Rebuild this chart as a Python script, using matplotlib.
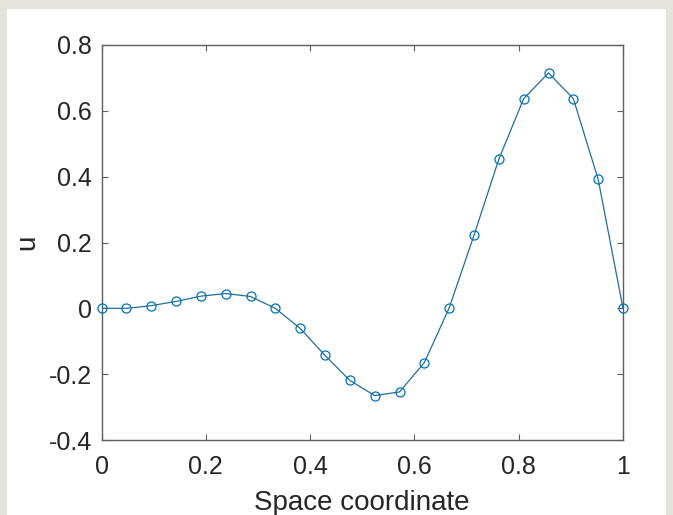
import matplotlib
matplotlib.use("Agg")
import matplotlib.pyplot as plt
from matplotlib.patches import Rectangle

x_labels = ["0", "0.2", "0.4", "0.6", "0.8", "1"]
x_ticks = [0, 0.2, 0.4, 0.6, 0.8, 1]
y_labels = ["-0.4", "-0.2", "0", "0.2", "0.4", "0.6", "0.8"]
y_ticks = [-0.4, -0.2, 0, 0.2, 0.4, 0.6, 0.8]

space = [i / 21 for i in range(22)]
u = [0.0, 0.0, 0.008, 0.021, 0.037, 0.045, 0.036, 0.0, -0.061, -0.143,
     -0.219, -0.265, -0.254, -0.165, 0.001, 0.222, 0.453, 0.637,
     0.715, 0.637, 0.392, 0.0]

plt.rcParams["font.family"] = ["Liberation Sans", "DejaVu Sans"]
plt.rcParams["axes.unicode_minus"] = False

fig = plt.figure(figsize=(6.73, 5.15), dpi=100, facecolor="#e4e4dc")
# white figure area inside the gray frame
fig.patches.append(Rectangle((7 / 673, 0), (666 - 7) / 673, (515 - 9) / 515,
                             transform=fig.transFigure, facecolor="white",
                             edgecolor="none", zorder=-10))

ax = fig.add_axes([101.5 / 673, 75 / 515, (623 - 101.5) / 673, 395 / 515])
ax.set_zorder(5)
ax.plot(space, u, color="#1f6e9c", linewidth=0.9, zorder=2)
ax.plot(space, u, linestyle="none", marker="o", markersize=6.5,
        markerfacecolor="none", markeredgecolor="#0072BD",
        markeredgewidth=0.9, clip_on=False, zorder=3)

ax.set_xlim(0, 1)
ax.set_ylim(-0.4, 0.8)
ax.set_xticks(x_ticks)
ax.set_xticklabels(x_labels)
ax.set_yticks(y_ticks)
ax.set_yticklabels(y_labels)

for s in ax.spines.values():
    s.set_color("#5e5e5e")
    s.set_linewidth(1.0)
ax.tick_params(direction="in", top=True, right=True, length=4,
               width=0.8, color="#5e5e5e", labelcolor="#262626",
               labelsize=18)
ax.tick_params(axis="y", pad=7)
ax.tick_params(axis="x", pad=11)

ax.set_xlabel("Space coordinate", fontsize=20, color="#262626", labelpad=8)
ax.set_ylabel("u", fontsize=20, color="#262626", labelpad=6)

fig.savefig("out.png", dpi=100, facecolor=fig.get_facecolor())
